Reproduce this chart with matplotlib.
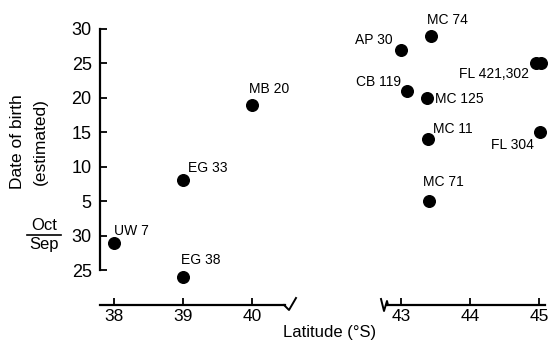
import matplotlib
matplotlib.use("Agg")
import matplotlib.pyplot as plt
from matplotlib.lines import Line2D

plt.rcParams['font.family'] = ['Liberation Sans', 'DejaVu Sans']

# birth dates as days after 30 Sep (negative = September)
labels = ["UW 7", "EG 38", "EG 33", "MB 20", "AP 30", "MC 74",
          "CB 119", "MC 125", "MC 11", "MC 71", "FL 421,302", "FL 304"]
latitude = [38.0, 39.0, 39.0, 40.0, 43.0, 43.43,
            43.09, 43.37, 43.39, 43.4, 44.95, 45.02]
birth_day = [-1, -6, 8, 19, 27, 29, 21, 20, 14, 5, 25, 15]
# second FL animal sharing the FL 421,302 label
extra_lat = [45.03]
extra_day = [25]

ytick_vals = [-5, 0, 5, 10, 15, 20, 25, 30]
ytick_text = ["25", "30", "5", "10", "15", "20", "25", "30"]
left_ticks = [38, 39, 40]
right_ticks = [43, 44, 45]

# label offsets in pixels (dx, dy, ha)
offsets = [(0, 12, 'left'), (-2, 17, 'left'), (5, 12, 'left'), (-3, 16, 'left'),
           (-8, 10, 'right'), (-4, 16, 'left'), (-6, 9, 'right'), (8, -1, 'left'),
           (5, 10, 'left'), (-6, 19, 'left'), (-7, -11, 'right'), (-7, -13, 'right')]

W, H = 550, 342
fig = plt.figure(figsize=(W / 100, H / 100), dpi=100)
bot = (H - 305) / H
hgt = 283 / H
ax1 = fig.add_axes([100 / W, bot, 185 / W, hgt])
ax2 = fig.add_axes([387 / W, bot, 158 / W, hgt], sharey=ax1)

ax1.set_ylim(-10.07, 31.0)
ax1.set_xlim(37.797, 40.478)
ax2.set_xlim(42.797, 45.087)

for ax, lo, hi in ((ax1, 37, 41), (ax2, 42, 46)):
    ax.patch.set_visible(False)
    ax.spines['top'].set_visible(False)
    ax.spines['right'].set_visible(False)
    ax.spines['bottom'].set_linewidth(1.6)
    ax.tick_params(axis='x', direction='in', length=5, width=1.3,
                   labelsize=12.5, pad=3)
    pts = [(lab, x, y, off) for lab, x, y, off in zip(labels, latitude, birth_day, offsets)
           if lo < x < hi]
    ax.scatter([p[1] for p in pts], [p[2] for p in pts], s=70, color='black',
               zorder=3, clip_on=False)
    for lab, x, y, (dx, dy, ha) in pts:
        ax.annotate(lab, (x, y), xytext=(dx, dy), textcoords='offset pixels',
                    ha=ha, va='center', fontsize=10)

ax2.scatter(extra_lat, extra_day, s=70, color='black', zorder=3, clip_on=False)

ax1.set_xticks(left_ticks)
ax2.set_xticks(right_ticks)
ax1.spines['left'].set_bounds(-5, 30)
ax1.spines['left'].set_linewidth(1.6)
ax1.set_yticks(ytick_vals)
ax1.set_yticklabels(ytick_text)
ax1.tick_params(axis='y', direction='in', length=5, width=1.3,
                labelsize=13, pad=6)
ax2.spines['left'].set_visible(False)
ax2.tick_params(axis='y', left=False, labelleft=False)


def px(points):
    xs = [p[0] / W for p in points]
    ys = [(H - p[1]) / H for p in points]
    return xs, ys


# axis break marks
for pts in ([(284, 305), (289, 310), (296, 298)],
            [(381, 299), (384, 311), (387, 301), (388, 305)]):
    xs, ys = px(pts)
    fig.add_artist(Line2D(xs, ys, transform=fig.transFigure, color='black', lw=1.4))

fig.text(330 / W, (H - 333) / H, "Latitude (°S)", ha='center', va='center', fontsize=12)
fig.text(18 / W, (H - 142) / H, "Date of birth", rotation=90, ha='center', va='center', fontsize=12.5)
fig.text(40 / W, (H - 142) / H, "(estimated)", rotation=90, ha='center', va='center', fontsize=12.5)
fig.text(44 / W, (H - 225) / H, "Oct", ha='center', va='center', fontsize=12)
fig.text(44 / W, (H - 245) / H, "Sep", ha='center', va='center', fontsize=12)
xs, ys = px([(27, 234.5), (61, 234.5)])
fig.add_artist(Line2D(xs, ys, transform=fig.transFigure, color='black', lw=1.2))

fig.savefig("out.png", dpi=100)
